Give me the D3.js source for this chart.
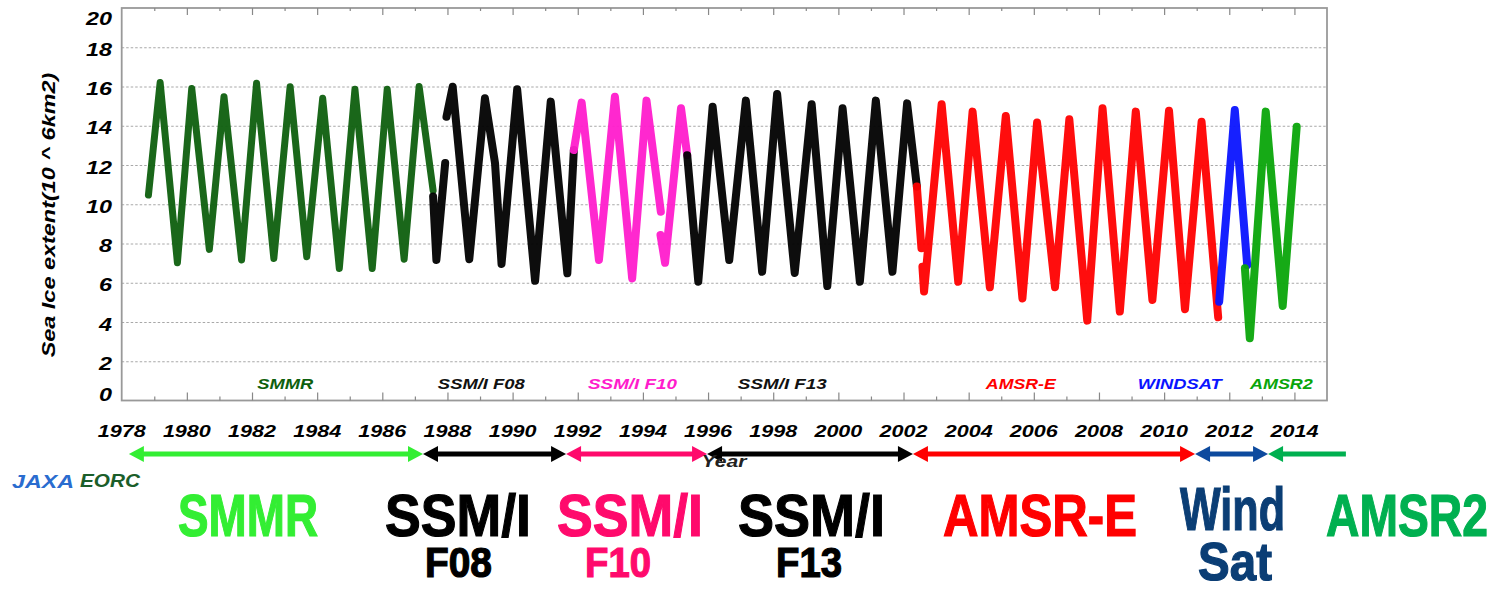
<!DOCTYPE html>
<html>
<head>
<meta charset="utf-8">
<script src="https://cdn.jsdelivr.net/npm/d3@7"></script>
<style>
  body { margin: 0; background: #fff; }
  svg { display: block; font-family: "Liberation Sans", Arial, sans-serif; }
</style>
</head>
<body>
<svg id="chart" width="1499" height="592"></svg>
<script>
// sea ice extent, [year, 10^6 km2] (null = data gap)
var smmrData = [[1978.82,10.47],[1979.18,16.2],[1979.71,7.02],[1980.15,15.9],[1980.69,7.7],[1981.14,15.48],[1981.68,7.16],
    [1982.14,16.16],[1982.67,7.24],[1983.17,15.99],[1983.68,7.33],[1984.17,15.4],[1984.68,6.73],[1985.16,15.86],
    [1985.69,6.73],[1986.15,15.86],[1986.67,7.2],[1987.13,16.0],[1987.56,10.7]];
var f08Data = [[1987.56,10.4],[1987.66,7.16],[1987.93,12.1],[1987.95,null],[1987.97,14.46],[1988.16,15.99],[1988.67,7.2],
    [1989.15,15.4],[1989.46,12.1],[1989.66,6.96],[1990.14,15.86],[1990.69,6.1],[1991.17,15.23],[1991.68,6.48],[1991.88,12.76]];
var f10Data = [[1991.88,12.76],[1992.12,15.18],[1992.65,7.16],[1993.14,15.48],[1993.67,6.22],[1994.11,15.28],[1994.55,9.62],
    [1994.55,null],[1994.54,8.43],[1994.68,7.02],[1995.17,14.89],[1995.36,12.5]];
var f13Data = [[1995.36,12.5],[1995.70,6.05],[1996.14,14.97],[1996.65,7.16],[1997.16,15.28],[1997.66,6.56],[1998.12,15.62],
    [1998.66,6.5],[1999.18,15.1],[1999.66,5.83],[2000.13,14.89],[2000.66,6.05],[2001.15,15.28],[2001.66,6.56],
    [2002.11,15.14],[2002.41,10.9]];
var amsreData = [[2002.41,10.9],[2002.55,7.76],[2002.56,null],[2002.58,6.82],[2002.63,5.55],[2003.17,15.1],[2003.68,6.05],
    [2004.12,14.72],[2004.65,5.77],[2005.14,14.5],[2005.65,5.2],[2006.10,14.16],[2006.65,5.77],[2007.09,14.33],
    [2007.64,4.07],[2008.11,14.89],[2008.64,4.53],[2009.13,14.72],[2009.64,5.12],[2010.15,14.77],[2010.64,4.65],
    [2011.15,14.2],[2011.66,4.24]];
var windsatData = [[2011.69,5.03],[2012.17,14.8],[2012.55,6.9]];
var amsr2Data = [[2012.48,6.74],[2012.63,3.17],[2013.12,14.72],[2013.64,4.82],[2014.07,13.95]];

var seriesData = [smmrData, f08Data, f10Data, f13Data, amsreData, windsatData, amsr2Data];
var seriesColors = ["#0e5f0e", "#000000", "#ff1ccc", "#000000", "#ff0000", "#0a14ff", "#0aa50a"];

// sensor names inside the plot
var plotLabels = ["SMMR", "SSM/I F08", "SSM/I F10", "SSM/I F13", "AMSR-E", "WINDSAT", "AMSR2"];
var plotLabelYears = [1983.02, 1989.04, 1993.68, 1998.28, 2005.6, 2010.48, 2013.6];

// sensor periods (arrows under the axis)
var periodStart = [1978.22, 1987.25, 1991.64, 1995.97, 2002.29, 2010.95, 2013.19];
var periodEnd = [1987.25, 1991.64, 1995.97, 2002.29, 2010.95, 2013.19, 2015.58];
var periodColors = ["#33ee33", "#000000", "#ff0a6c", "#000000", "#ff0000", "#0d4a9e", "#00b050"];

var yTicks = [0, 2, 4, 6, 8, 10, 12, 14, 16, 18, 20];
var yearTicks = d3.range(1978, 2015, 2);

var svg = d3.select("#chart");

var x = d3.scaleLinear().domain([1978, 2015]).range([121.7, 1327]);
var y = d3.scaleLinear().domain([0, 20]).range([400.5, 8]);

// grid
svg.append("g")
    .attr("transform", "translate(121.7,0)")
    .call(d3.axisLeft(y).tickValues(yTicks.filter(function(d){ return d > 0 && d < 20 }))
        .tickSize(-(1327 - 121.7)).tickFormat(""))
    .call(function(g){ g.select(".domain").remove() })
    .selectAll("line")
    .attr("stroke", "#a8a8a8")
    .attr("stroke-dasharray", "2.5,2");

// series
var line = d3.line()
    .defined(function(d){ return d[1] !== null })
    .x(function(d){ return x(d[0]) })
    .y(function(d){ return y(d[1]) });

svg.append("g").selectAll("path")
    .data(seriesData)
    .enter().append("path")
    .attr("d", line)
    .attr("fill", "none")
    .attr("stroke", function(d, i){ return seriesColors[i] })
    .attr("stroke-width", function(d, i){ return i === 0 ? 7 : 8 })
    .attr("stroke-linejoin", "round")
    .attr("stroke-linecap", "round")
    .attr("opacity", 0.95);

// frame
svg.append("rect")
    .attr("x", 121.7).attr("y", 8)
    .attr("width", 1327 - 121.7).attr("height", 400.5 - 8)
    .attr("fill", "none")
    .attr("stroke", "#999")
    .attr("stroke-width", 1.8);

// year ticks, bottom and top, pointing inward
function tickAxis(axis, vals, size, ty){
    svg.append("g")
        .attr("transform", "translate(0," + ty + ")")
        .call(axis(x).tickValues(vals).tickSize(size).tickFormat(""))
        .call(function(g){ g.select(".domain").remove() })
        .selectAll("line").attr("stroke", "#888").attr("stroke-width", 1.2);
}
var allYears = d3.range(1979, 2015);
tickAxis(d3.axisBottom, allYears.filter(function(d){ return d % 2 }), -4, 400.5);
tickAxis(d3.axisBottom, allYears.filter(function(d){ return d % 2 === 0 }), -8, 400.5);
tickAxis(d3.axisTop, allYears.filter(function(d){ return d % 2 }), -3, 8);
tickAxis(d3.axisTop, allYears.filter(function(d){ return d % 2 === 0 }), -7, 8);

// squeeze / stretch a text horizontally to width w, anchored at (tx, ty)
function place(node, tx, ty, w, rot){
    var n = node.getComputedTextLength();
    d3.select(node).attr("transform", "translate(" + tx + "," + ty + ")" +
        (rot ? " rotate(" + rot + ")" : "") + " scale(" + (w / n) + ",1)");
}
function boldItalic(sel, size){
    return sel.style("font-size", size + "px").style("font-weight", "bold").style("font-style", "italic");
}

// y tick labels
boldItalic(svg.append("g").selectAll("text")
    .data(yTicks)
    .enter().append("text")
    .attr("text-anchor", "end"), 18)
    .text(function(d){ return d })
    .each(function(d){
        place(this, 112, Math.max(18, Math.min(394.5, y(d) + 2)) + 6.5, String(d).length * 13);
    });

// x year labels
boldItalic(svg.append("g").selectAll("text")
    .data(yearTicks)
    .enter().append("text")
    .attr("text-anchor", "middle"), 17)
    .text(function(d){ return d })
    .each(function(d){ place(this, x(d), 437, 48) });

// y title
place(boldItalic(svg.append("text").attr("text-anchor", "middle"), 19)
    .text("Sea Ice extent(10 ^ 6km2)").node(), 55, 215, 285, -90);

// sensor names in plot
var labelWidths = [56, 87, 89, 89, 70, 84, 63];
boldItalic(svg.append("g").selectAll("text")
    .data(plotLabels)
    .enter().append("text")
    .attr("text-anchor", "middle")
    .attr("fill", function(d, i){ return seriesColors[i] === "#000000" ? "#111" : seriesColors[i] }), 15)
    .text(function(d){ return d })
    .each(function(d, i){ place(this, x(plotLabelYears[i]), 388.5, labelWidths[i]) });

// period arrows
var arrowY = 454, headL = 15, headH = 8;
var arrows = svg.append("g");
periodStart.forEach(function(s, i){
    var x0 = x(s), x1 = x(periodEnd[i]), c = periodColors[i];
    var last = i === periodStart.length - 1;
    arrows.append("line")
        .attr("x1", x0 + headL - 1).attr("x2", last ? x1 : x1 - headL + 1)
        .attr("y1", arrowY).attr("y2", arrowY)
        .attr("stroke", c).attr("stroke-width", 5);
    arrows.append("path")
        .attr("d", "M" + x0 + "," + arrowY + "L" + (x0 + headL) + "," + (arrowY - headH) +
              "L" + (x0 + headL) + "," + (arrowY + headH) + "Z")
        .attr("fill", c);
    if (!last) {
        arrows.append("path")
            .attr("d", "M" + x1 + "," + arrowY + "L" + (x1 - headL) + "," + (arrowY - headH) +
                  "L" + (x1 - headL) + "," + (arrowY + headH) + "Z")
            .attr("fill", c);
    }
});

place(boldItalic(svg.append("text").attr("text-anchor", "middle").attr("fill", "#222"), 16)
    .text("Year").node(), 724, 467, 45);

// logo
place(boldItalic(svg.append("text").attr("fill", "#2a6ccf"), 19).text("JAXA").node(), 12, 488, 62);
place(boldItalic(svg.append("text").attr("fill", "#1b5e2a"), 18).text("EORC").node(), 80, 487, 60);

// big sensor names along the bottom
var bigLabels = [
    {t: "SMMR", x: 178, y: 536, w: 140, s: 60, c: "#33ee33"},
    {t: "SSM/I", x: 385, y: 536, w: 146, s: 60, c: "#000"},
    {t: "F08", x: 425, y: 577, w: 67, s: 42, c: "#000"},
    {t: "SSM/I", x: 557, y: 536, w: 146, s: 60, c: "#ff0a6c"},
    {t: "F10", x: 585, y: 577, w: 66, s: 42, c: "#ff0a6c"},
    {t: "SSM/I", x: 738, y: 536, w: 147, s: 60, c: "#000"},
    {t: "F13", x: 776, y: 577, w: 66, s: 42, c: "#000"},
    {t: "AMSR-E", x: 943, y: 536, w: 194, s: 60, c: "#ff0000"},
    {t: "Wind", x: 1180, y: 530, w: 105, s: 62, c: "#0b3e75"},
    {t: "Sat", x: 1198, y: 580, w: 74, s: 54, c: "#0b3e75"},
    {t: "AMSR2", x: 1326, y: 536, w: 162, s: 60, c: "#00b050"}
];
svg.append("g").selectAll("text")
    .data(bigLabels)
    .enter().append("text")
    .attr("fill", function(d){ return d.c })
    .attr("stroke", function(d){ return d.c })
    .attr("stroke-width", 1.2)
    .style("font-size", function(d){ return d.s + "px" })
    .style("font-weight", "bold")
    .text(function(d){ return d.t })
    .each(function(d){ place(this, d.x, d.y, d.w) });
</script>
</body>
</html>
